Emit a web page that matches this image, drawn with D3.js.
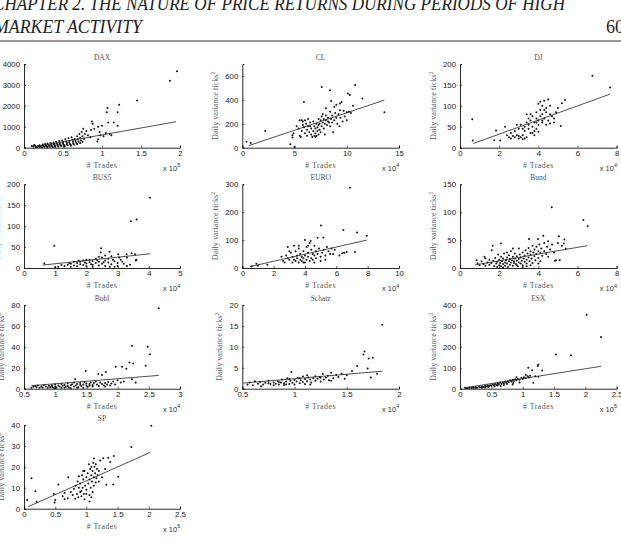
<!DOCTYPE html>
<html><head><meta charset="utf-8">
<script src="https://cdn.jsdelivr.net/npm/d3@7/dist/d3.min.js"></script>
<style>body{margin:0;background:#fff;overflow:hidden}</style></head>
<body><svg id="c" width="621" height="541"></svg>
<script>
// ---------- DATA ----------
const panelNames = ["DAX","CL","DJ","BUS5","EURO","Bund","Bobl","Schatz","ESX","SP"];
const xExponents = [5,4,4,4,4,4,4,4,5,5];
const xDomains = [[0,2],[0,15],[0,8],[0,5],[0,10],[0,8],[0.5,3],[0.5,2],[0,2.5],[0,2.5]];
const yDomains = [[0,4000],[0,700],[0,200],[0,200],[0,300],[0,150],[0,80],[0,20],[0,400],[0,40]];
const xTickVals = [[0,0.5,1,1.5,2],[0,5,10,15],[0,2,4,6,8],[0,1,2,3,4,5],[0,2,4,6,8,10],[0,2,4,6,8],[0.5,1,1.5,2,2.5,3],[0.5,1,1.5,2],[0,0.5,1,1.5,2,2.5],[0,0.5,1,1.5,2,2.5]];
const yTickVals = [[0,1000,2000,3000,4000],[0,200,400,600],[0,50,100,150,200],[0,50,100,150,200],[0,100,200,300],[0,50,100,150],[0,20,40,60,80],[0,5,10,15,20],[0,100,200,300,400],[0,10,20,30,40]];

// regression line end points [x0,y0,x1,y1]
const daxFit = [0.15,50,1.95,1240];
const clFit = [0.6,17,13.6,398];
const djFit = [0.68,10,7.66,128];
const bus5Fit = [0.6,7,4.04,34];
const euroFit = [0.5,5,7.94,100];
const bundFit = [0.77,5.5,6.5,40];
const boblFit = [0.62,2.9,2.66,12.7];
const schatzFit = [0.51,1.34,1.84,4.19];
const esxFit = [0.08,4.7,2.25,107];
const spFit = [0.07,1,2.03,27];

const daxPoints = [[0.12,60],[0.14,100],[0.15,30],[0.17,20],[0.18,80],[0.2,40],[0.2,120],[0.22,60],[0.23,20],[0.24,150],[0.25,90],[0.26,40],[0.27,180],[0.28,110],[0.29,60],[0.3,30],[0.3,200],[0.31,140],[0.32,90],[0.33,50],[0.34,220],[0.35,160],[0.35,110],[0.36,70],[0.37,30],[0.38,250],[0.38,180],[0.39,130],[0.4,90],[0.4,50],[0.41,280],[0.42,200],[0.43,150],[0.43,100],[0.44,60],[0.45,320],[0.46,230],[0.46,170],[0.47,120],[0.48,80],[0.49,350],[0.5,260],[0.5,190],[0.51,140],[0.52,100],[0.52,60],[0.53,400],[0.54,300],[0.55,220],[0.55,160],[0.56,120],[0.57,450],[0.58,330],[0.58,250],[0.59,180],[0.6,130],[0.6,90],[0.61,500],[0.62,380],[0.63,280],[0.63,200],[0.64,150],[0.65,420],[0.66,320],[0.67,240],[0.68,550],[0.68,180],[0.69,400],[0.7,300],[0.71,650],[0.72,470],[0.72,220],[0.73,350],[0.74,750],[0.75,550],[0.75,280],[0.76,900],[0.77,420],[0.78,650],[0.8,800],[0.82,600],[0.85,500],[0.87,1250],[0.88,1150],[0.86,850],[0.9,900],[0.95,1000],[0.97,750],[0.95,400],[0.94,300],[1.0,1050],[1.02,550],[1.05,700],[1.07,1900],[1.06,1700],[1.08,1200],[1.1,650],[1.12,600],[1.15,1200],[1.2,1700],[1.22,2050],[1.2,1050],[1.45,2250],[1.87,3200],[1.96,3650],[0.98,600],[0.1,80],[0.13,130]];

const clPoints = [[0.4,50],[0.8,40],[2.2,139],[4.6,28],[5.0,5],[4.8,105],[4.8,85],[5.5,230],[5.7,230],[5.9,383],[7.6,508],[8.4,480],[10.1,453],[10.3,440],[10.8,525],[11.5,411],[13.6,297],[10.0,297],[9.35,314],[9.5,383],[9.35,370],[8.8,342],[5.2,180],[5.4,160],[5.5,100],[5.6,90],[5.7,140],[5.8,190],[5.9,170],[6.0,120],[6.1,200],[6.2,150],[6.2,100],[6.3,180],[6.4,130],[6.5,210],[6.6,160],[6.6,110],[6.7,90],[6.8,140],[6.9,180],[7.0,120],[7.0,160],[7.1,100],[7.1,200],[7.2,140],[7.2,170],[7.3,110],[7.3,190],[7.4,150],[7.5,230],[7.5,130],[7.6,180],[7.6,260],[7.7,210],[7.8,240],[7.8,160],[7.9,200],[7.9,110],[8.0,230],[8.0,270],[8.1,190],[8.2,220],[8.2,250],[8.3,210],[8.4,300],[8.4,180],[8.5,240],[8.6,270],[8.6,210],[8.7,130],[8.8,230],[8.9,290],[9.0,250],[9.1,200],[9.2,280],[9.3,180],[9.4,250],[9.6,220],[9.7,310],[9.8,260],[10.0,230],[10.2,300],[10.4,290],[10.6,350],[6.8,220],[6.5,180],[7.0,90],[6.9,100],[7.4,200],[6.0,230],[5.8,220],[8.5,390],[9.0,360],[8.0,330],[7.3,240],[7.7,280],[6.3,240],[4.9,120]];

const djPoints = [[2.4,30],[2.5,25],[2.6,22],[2.7,28],[2.8,25],[2.9,30],[3.0,22],[3.0,28],[3.1,25],[3.2,30],[3.3,22],[3.4,25],[3.2,20],[2.6,35],[2.8,40],[3.0,45],[3.1,55],[3.3,50],[3.4,60],[3.5,45],[3.5,55],[3.6,65],[3.6,35],[3.7,50],[3.7,75],[3.8,60],[3.8,40],[3.9,70],[3.9,85],[4.0,55],[4.0,65],[4.0,38],[4.1,90],[4.1,75],[4.2,100],[4.2,60],[4.2,80],[4.3,112],[4.3,70],[4.4,95],[4.4,85],[4.5,115],[4.5,65],[4.6,100],[4.6,80],[4.7,75],[4.8,60],[4.9,85],[5.0,95],[4.0,105],[3.9,45],[3.8,30],[3.6,80],[3.4,80],[3.3,40],[4.4,55],[4.6,58],[4.3,90],[4.1,110],[3.7,35],[3.5,70],[3.9,60],[4.2,65],[4.8,70],[2.9,55],[3.2,45],[5.14,52],[5.36,114],[5.2,106],[6.76,172],[7.66,144],[0.63,68],[0.65,17],[1.75,18],[2.05,17],[1.84,41],[2.3,50]];

const bus5Points = [[1.3,5],[1.4,8],[1.5,3],[1.5,10],[1.6,6],[1.7,12],[1.7,4],[1.8,9],[1.8,15],[1.9,7],[1.9,18],[2.0,11],[2.0,4],[2.1,14],[2.1,20],[2.2,8],[2.2,17],[2.3,12],[2.3,22],[2.4,6],[2.4,15],[2.5,10],[2.5,25],[2.6,18],[2.6,5],[2.7,13],[2.7,22],[2.8,9],[2.8,28],[2.9,16],[3.0,12],[3.0,5],[3.1,20],[3.2,10],[3.3,25],[3.4,8],[1.1,3],[1.2,7],[0.65,11],[1.0,2],[1.6,15],[2.0,20],[2.2,3],[2.4,27],[2.6,30],[2.9,3],[3.3,5],[3.6,20],[1.45,12],[1.75,18],[1.95,13],[2.15,9],[2.35,18],[2.55,14],[2.75,3],[2.85,20],[3.05,25],[3.15,15],[3.45,35],[3.56,33],[3.29,33],[3.02,33],[3.58,18],[3.61,116],[3.43,112],[4.04,168],[2.47,47],[2.46,37],[2.74,39],[0.97,53]];

const euroPoints = [[0.6,5],[0.9,15],[1.0,8],[1.6,12],[2.5,40],[2.6,25],[2.8,45],[2.9,75],[3.0,30],[3.1,55],[3.2,20],[3.2,40],[3.3,80],[3.3,30],[3.4,60],[3.4,25],[3.5,45],[3.5,35],[3.6,20],[3.6,70],[3.7,30],[3.7,50],[3.8,40],[3.8,25],[3.9,60],[3.9,35],[4.0,45],[4.0,20],[4.1,30],[4.1,75],[4.2,55],[4.2,40],[4.3,25],[4.3,90],[4.4,65],[4.4,35],[4.5,50],[4.5,30],[4.6,80],[4.6,45],[4.7,60],[4.7,35],[4.8,50],[4.9,70],[5.0,40],[5.0,25],[5.1,55],[5.2,65],[5.3,45],[5.4,75],[5.5,60],[5.6,50],[5.7,70],[5.9,65],[6.2,45],[6.5,55],[2.7,20],[3.0,60],[2.9,35],[3.6,80],[4.0,100],[4.8,108],[4.36,97],[5.02,152],[5.17,109],[6.45,136],[6.87,288],[7.32,127],[7.94,116],[7.19,57],[6.66,57],[6.38,53],[4.2,80],[5.3,30],[3.9,20],[4.6,20],[5.8,50]];

const bundPoints = [[0.85,14],[0.9,8],[1.0,5],[1.1,12],[1.2,7],[1.25,20],[1.3,4],[1.4,10],[1.5,15],[1.5,6],[1.6,9],[1.62,32],[1.67,40],[1.7,13],[1.75,3],[1.8,18],[1.85,8],[1.9,11],[1.95,24],[2.0,5],[2.0,15],[2.05,9],[2.09,44],[2.1,20],[2.1,3],[2.15,12],[2.2,7],[2.2,17],[2.25,26],[2.3,10],[2.3,4],[2.35,14],[2.4,19],[2.4,8],[2.45,2],[2.5,12],[2.5,23],[2.55,6],[2.55,16],[2.6,10],[2.6,30],[2.65,14],[2.7,4],[2.7,20],[2.75,9],[2.75,12],[2.8,17],[2.8,26],[2.85,7],[2.9,13],[2.9,21],[2.95,3],[3.0,10],[3.0,16],[3.0,35],[3.05,24],[3.1,8],[3.1,19],[3.15,13],[3.2,28],[3.2,5],[3.25,17],[3.3,11],[3.3,22],[3.35,32],[3.4,15],[3.4,8],[3.45,26],[3.5,19],[3.5,36],[3.52,52],[3.55,12],[3.6,24],[3.6,30],[3.65,17],[3.7,40],[3.7,9],[3.75,28],[3.8,21],[3.8,33],[3.85,14],[3.9,38],[3.9,25],[3.98,52],[4.0,30],[4.0,18],[4.05,42],[4.1,27],[4.1,12],[4.15,35],[4.2,22],[4.25,58],[4.3,30],[4.3,45],[4.4,25],[4.45,38],[4.5,48],[4.5,20],[4.6,33],[4.68,109],[4.7,42],[4.8,28],[4.85,13],[4.9,14],[5.0,45],[5.05,57],[5.09,14],[5.2,40],[5.33,51],[5.4,35],[5.3,44],[6.3,86],[6.52,75],[3.2,2],[2.4,28],[1.3,17],[2.7,35],[3.6,5],[4.0,8],[3.4,3],[2.9,5],[2.2,1],[1.9,2]];

const boblPoints = [[0.62,1],[0.65,2],[0.7,1.5],[0.72,3],[0.75,0.8],[0.78,2],[0.8,1.2],[0.82,3.5],[0.85,2],[0.88,1],[0.9,2.8],[0.92,1.5],[0.95,3.2],[0.97,0.8],[1.0,2.2],[1.0,4],[1.02,1.2],[1.05,3],[1.07,2],[1.1,4.5],[1.1,1],[1.12,2.8],[1.15,3.6],[1.17,1.8],[1.2,2.5],[1.2,5],[1.22,1.2],[1.25,3.2],[1.27,4.2],[1.3,2],[1.3,6],[1.32,9],[1.33,3],[1.35,4.5],[1.37,1.5],[1.4,3.5],[1.4,5.5],[1.42,2.5],[1.45,4],[1.47,6.5],[1.49,17],[1.5,3],[1.5,5],[1.52,1.8],[1.55,4.5],[1.57,6],[1.6,3.5],[1.6,2],[1.62,5.5],[1.65,7],[1.67,4],[1.69,14],[1.7,2.5],[1.72,6],[1.75,13],[1.75,4.5],[1.78,3],[1.8,5.5],[1.81,16],[1.83,4],[1.85,6.5],[1.88,3],[1.9,5],[1.93,7],[1.96,4],[1.97,21],[2.05,6],[2.07,21],[2.1,7],[2.14,19],[2.19,25],[2.23,41],[2.23,9],[2.25,24],[2.29,6],[2.45,22],[2.48,40],[2.52,33],[2.66,77],[1.0,0.5],[1.15,0.8],[1.25,0.5],[1.35,1],[1.45,0.8],[2.0,8],[1.8,2],[0.68,2.5],[0.95,1.8],[1.55,2.8]];

const schatzPoints = [[0.55,1.0],[0.57,1.5],[0.6,0.8],[0.62,1.8],[0.65,1.2],[0.67,1.6],[0.7,1.0],[0.72,1.4],[0.75,1.9],[0.77,1.1],[0.8,1.5],[0.8,0.8],[0.82,1.2],[0.84,1.8],[0.85,1.0],[0.87,1.5],[0.88,2.2],[0.9,1.3],[0.9,0.9],[0.92,1.7],[0.93,2.5],[0.95,1.1],[0.96,1.9],[0.97,4.0],[0.98,1.4],[1.0,2.1],[1.0,1.0],[1.02,1.7],[1.03,2.6],[1.05,1.3],[1.06,2.0],[1.08,1.6],[1.08,2.9],[1.1,2.3],[1.1,1.1],[1.12,1.8],[1.13,2.7],[1.15,2.2],[1.16,1.5],[1.18,2.5],[1.2,3.0],[1.2,1.9],[1.22,2.4],[1.24,2.8],[1.25,1.7],[1.27,3.5],[1.28,2.2],[1.3,2.7],[1.32,3.1],[1.33,2.0],[1.35,3.8],[1.37,2.5],[1.4,3.3],[1.42,2.8],[1.45,3.6],[1.48,2.4],[1.5,3.2],[1.55,4.2],[1.6,5.4],[1.66,8.2],[1.67,8.9],[1.71,7.2],[1.75,7.4],[1.70,4.8],[1.73,2.7],[1.79,3.6],[1.84,15.3],[0.75,1.3],[0.85,1.6],[0.95,2.3],[1.05,2.5],[1.15,1.0],[1.25,2.6],[1.35,1.9],[0.68,0.6],[0.92,1.0],[1.12,3.2]];

const esxPoints = [[0.08,5],[0.1,3],[0.12,2],[0.15,4],[0.18,3],[0.2,6],[0.22,4],[0.25,7],[0.27,5],[0.3,9],[0.32,7],[0.35,11],[0.37,8],[0.4,13],[0.42,10],[0.44,15],[0.46,12],[0.48,17],[0.5,14],[0.52,20],[0.54,16],[0.56,22],[0.58,18],[0.6,25],[0.62,21],[0.64,28],[0.66,23],[0.68,30],[0.7,26],[0.72,33],[0.74,28],[0.76,36],[0.78,31],[0.8,40],[0.82,34],[0.84,43],[0.86,37],[0.88,45],[0.9,40],[0.92,48],[0.95,43],[0.98,52],[1.0,46],[1.02,55],[1.05,50],[1.08,60],[1.1,54],[1.12,62],[1.15,88],[1.17,28],[1.09,100],[1.24,109],[1.25,115],[1.25,57],[1.31,87],[1.53,164],[1.77,160],[2.02,354],[2.25,247],[0.84,20],[0.6,15],[0.45,8],[0.7,18],[0.95,30],[1.2,60],[1.05,65],[0.9,55],[0.35,5],[0.55,11],[0.65,13],[0.75,22],[0.85,27],[0.25,3],[0.4,6]];

const spPoints = [[0.05,4.1],[0.12,14.5],[0.18,8.3],[0.2,3.3],[0.48,7],[0.49,3],[0.5,4.1],[0.55,11.6],[0.62,6],[0.65,4.5],[0.7,5],[0.71,15],[0.75,8],[0.78,6.5],[0.8,9.5],[0.82,4.8],[0.83,11],[0.85,7],[0.86,13],[0.87,5.5],[0.88,15.5],[0.9,8],[0.9,12],[0.92,6],[0.93,16],[0.94,10],[0.95,14],[0.96,7],[0.97,18],[0.98,11],[1.0,15],[1.0,9],[1.02,17],[1.03,12],[1.04,21.2],[1.05,14],[1.05,6.5],[1.06,19],[1.07,10],[1.08,16],[1.08,20],[1.09,13],[1.1,18],[1.1,8],[1.11,22],[1.12,15],[1.12,11],[1.13,20],[1.14,17],[1.15,21.2],[1.15,12.5],[1.16,14.5],[1.17,19],[1.18,16],[1.2,18],[1.2,13],[1.22,23],[1.25,15],[1.27,24.1],[1.3,19],[1.32,11.4],[1.35,24.4],[1.38,22.3],[1.43,11.6],[1.44,25.2],[1.51,15.3],[1.72,29.5],[2.04,39.7],[0.97,4.5],[1.0,7],[1.08,5.5],[0.88,10],[0.95,18],[1.12,24],[0.65,7.5],[1.05,3.5],[0.92,8.5]];

const allPoints = [daxPoints,clPoints,djPoints,bus5Points,euroPoints,bundPoints,boblPoints,schatzPoints,esxPoints,spPoints];
const allFits = [daxFit,clFit,djFit,bus5Fit,euroFit,bundFit,boblFit,schatzFit,esxFit,spFit];

const headerLine1 = "CHAPTER 2.  THE NATURE OF PRICE RETURNS DURING PERIODS OF HIGH";
const headerLine2 = "MARKET ACTIVITY";
const pageNumber = "60";

// ---------- LAYOUT ----------
const colLeft = [24, 242.3, 460], colRight = [180, 399, 616.7];
const rowTop = [64, 184.3, 305, 425], rowBottom = [147.7, 268, 388.7, 508.7];

const svg = d3.select("#c");
const serif = "'Liberation Serif','Times New Roman',serif";
const sans = "'Liberation Sans',Arial,sans-serif";

// header
svg.append("text").attr("x",-7).attr("y",10).attr("font-family",serif).attr("font-style","italic")
  .attr("font-size",18).attr("fill","#222").attr("textLength",572).attr("lengthAdjust","spacingAndGlyphs").text(headerLine1);
svg.append("text").attr("x",-6).attr("y",33).attr("font-family",serif).attr("font-style","italic")
  .attr("font-size",18).attr("fill","#222").attr("textLength",148).attr("lengthAdjust","spacingAndGlyphs").text(headerLine2);
svg.append("text").attr("x",624).attr("y",33).attr("text-anchor","end").attr("font-family",serif)
  .attr("font-size",18).attr("fill","#222").text(pageNumber);
svg.append("line").attr("x1",0).attr("x2",621).attr("y1",41).attr("y2",41).attr("stroke","#777").attr("stroke-width",1.3);

panelNames.forEach((name,i)=>{
  const col = i===9 ? 0 : i%3, row = Math.floor(i/3);
  const L = colLeft[col], R = colRight[col], T = rowTop[row], B = rowBottom[row];
  const x = d3.scaleLinear().domain(xDomains[i]).range([L,R]);
  const y = d3.scaleLinear().domain(yDomains[i]).range([B,T]);
  const g = svg.append("g");
  const fmt = d3.format("~g");

  // axes
  const xa = g.append("g").attr("transform",`translate(0,${B})`)
    .call(d3.axisBottom(x).tickValues(xTickVals[i]).tickSize(-2).tickPadding(4).tickFormat(fmt));
  const ya = g.append("g").attr("transform",`translate(${L},0)`)
    .call(d3.axisLeft(y).tickValues(yTickVals[i]).tickSize(-2).tickPadding(4).tickFormat(fmt));
  [xa,ya].forEach(a=>{
    a.select(".domain").attr("stroke","#111").attr("stroke-width",0.9);
    a.selectAll(".tick line").attr("stroke","#111").attr("stroke-width",0.7);
    a.selectAll(".tick text").attr("font-family",sans).attr("font-size",7.8).attr("fill","#222");
  });
  xa.selectAll(".tick text").attr("dy","0.55em");

  // points
  g.append("g").selectAll("circle").data(allPoints[i]).join("circle")
    .attr("cx",d=>x(d[0])).attr("cy",d=>y(d[1])).attr("r",1).attr("fill","#111");

  // fit line
  const f = allFits[i];
  g.append("line").attr("x1",x(f[0])).attr("y1",y(f[1])).attr("x2",x(f[2])).attr("y2",y(f[3]))
    .attr("stroke","#222").attr("stroke-width",0.8);

  // title
  g.append("text").attr("x",(L+R)/2).attr("y",T-4.3).attr("text-anchor","middle")
    .attr("font-family",serif).attr("font-size",7.5).attr("fill","#555").text(name);
  // x label
  g.append("text").attr("x",(L+R)/2).attr("y",B+19.8).attr("text-anchor","middle")
    .attr("font-family",serif).attr("font-size",7.8).attr("letter-spacing",0.5).attr("fill","#555").text("# Trades");
  // exponent
  const ex = g.append("text").attr("x",R-17).attr("y",B+23).attr("font-family",sans)
    .attr("font-size",7.5).attr("fill","#333");
  ex.append("tspan").text("x 10");
  ex.append("tspan").attr("dy",-3.5).attr("font-size",5.5).text(xExponents[i]);

  // y label
  const maxLen = d3.max(yTickVals[i], v=>fmt(v).length);
  const lx = L - (maxLen*4 + 12);
  const yl = g.append("text").attr("transform",`translate(${lx},${(T+B)/2}) rotate(-90)`)
    .attr("text-anchor","middle").attr("font-family",serif).attr("font-size",8.2).attr("fill","#555");
  yl.append("tspan").text("Daily variance ticks");
  yl.append("tspan").attr("dy",-3).attr("font-size",5.5).text("2");
});
</script></body></html>
